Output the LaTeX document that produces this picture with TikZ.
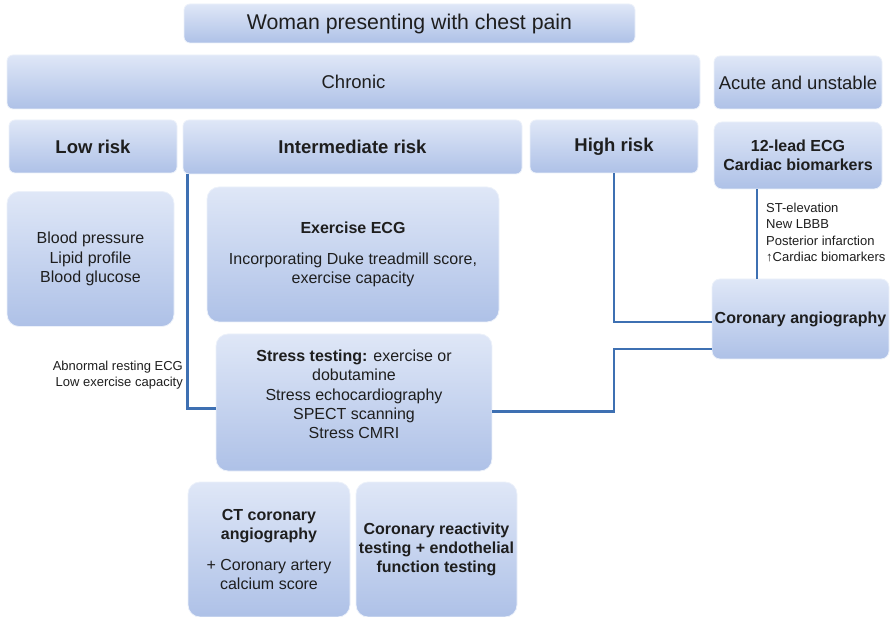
\documentclass[tikz,border=0pt]{standalone}
\usepackage{fontspec}
\setmainfont{Liberation Sans}
\usepackage{tikz}
\usetikzlibrary{positioning,calc,shapes}
\definecolor{boxtop}{RGB}{223,231,247}
\definecolor{boxbot}{RGB}{174,193,231}
\definecolor{linkblue}{RGB}{62,112,178}
\definecolor{ink}{RGB}{30,30,30}
\tikzstyle{box} = [rectangle, rounded corners=6pt, draw=boxtop!60!white, line width=0.8pt, top color=boxtop, bottom color=boxbot, text=ink, align=center, inner sep=2pt, font=\fontsize{16}{19.3}\selectfont]
\tikzstyle{head} = [box, font=\fontsize{18.5}{22}\selectfont]
\tikzstyle{headbold} = [box, font=\fontsize{18.5}{22}\selectfont\bfseries]
\tikzstyle{tall} = [box, rounded corners=12pt]
\tikzstyle{note} = [text=ink, inner sep=0pt, font=\fontsize{13}{16.3}\selectfont]
\tikzstyle{link} = [draw=linkblue, line width=2.5pt]

\begin{document}
\begin{tikzpicture}[x=1pt, y=-1pt]
	\useasboundingbox (0,0) rectangle (894,617);
			\node[box, font=\fontsize{21.3}{25}\selectfont, minimum width=451pt, minimum height=39pt] (start) at (409.5,23.5) {Woman presenting with chest pain};
			\node[head, minimum width=693pt, minimum height=54pt] (chronic) at (353.5,82) {Chronic};
			\node[head, minimum width=168pt, minimum height=53pt] (acute) at (798,82.5) {Acute and unstable};
			\node[headbold, minimum width=168pt, minimum height=53pt] (low) at (93,146.5) {Low risk};
			\node[headbold, minimum width=339pt, minimum height=54pt] (inter) at (352.5,147) {Intermediate risk};
			\node[headbold, minimum width=168pt, minimum height=53pt] (high) at (614,146.5) {High risk};
			\node[box, font=\fontsize{16}{19.3}\selectfont\bfseries, minimum width=168pt, minimum height=67pt, rounded corners=8pt] (ecg) at (798,155.5) {12-lead ECG\\Cardiac biomarkers};
			\node[tall, font=\fontsize{16}{19.6}\selectfont, minimum width=167pt, minimum height=135pt] (blood) at (90.5,259) {Blood pressure\\Lipid profile\\Blood glucose};
			\node[tall, minimum width=292pt, minimum height=135pt] (exer) at (353,254.5) {\textbf{Exercise ECG}\\[11pt]Incorporating Duke treadmill score,\\exercise capacity};
			\node[tall, minimum width=276pt, minimum height=137pt] (stress) at (354,402.5) {\textbf{Stress testing:} exercise or\\dobutamine\\Stress echocardiography\\SPECT scanning\\Stress CMRI\\[-3pt]\mbox{}};
			\node[box, font=\fontsize{16}{19.3}\selectfont\bfseries, minimum width=177pt, minimum height=80pt, rounded corners=8pt] (angio) at (800.5,319) {Coronary angiography};
			\node[tall, minimum width=162pt, minimum height=135pt] (ct) at (269,549.5) {\textbf{CT coronary}\\\textbf{angiography}\\[11pt]+ Coronary artery\\calcium score};
			\node[tall, font=\fontsize{16}{19.3}\selectfont\bfseries, minimum width=161pt, minimum height=135pt] (react) at (436.5,549.5) {Coronary reactivity\\testing + endothelial\\function testing};
			
			%labels
			\node[note, anchor=east, align=right] (abnormal) at (183,375) {Abnormal resting ECG\\Low exercise capacity};
			\node[note, anchor=north west, align=left] (stemi) at (766,203) {ST-elevation\\New LBBB\\Posterior infarction\\↑Cardiac biomarkers};
			
			%links
			\draw [link] ([xshift=5pt]inter.south west) |- ([yshift=-6pt]stress.west);
			\draw [link] (high.south) |- ([yshift=-3pt]angio.west);
			\draw [link] ([yshift=-9pt]stress.east) -- ([yshift=-9pt]stress.east -| high.south) |- ([yshift=-30pt]angio.west);
			\draw [link] ([xshift=-41pt]ecg.south) -- ([xshift=-41pt]ecg.south |- angio.north);
\end{tikzpicture}
\end{document}
